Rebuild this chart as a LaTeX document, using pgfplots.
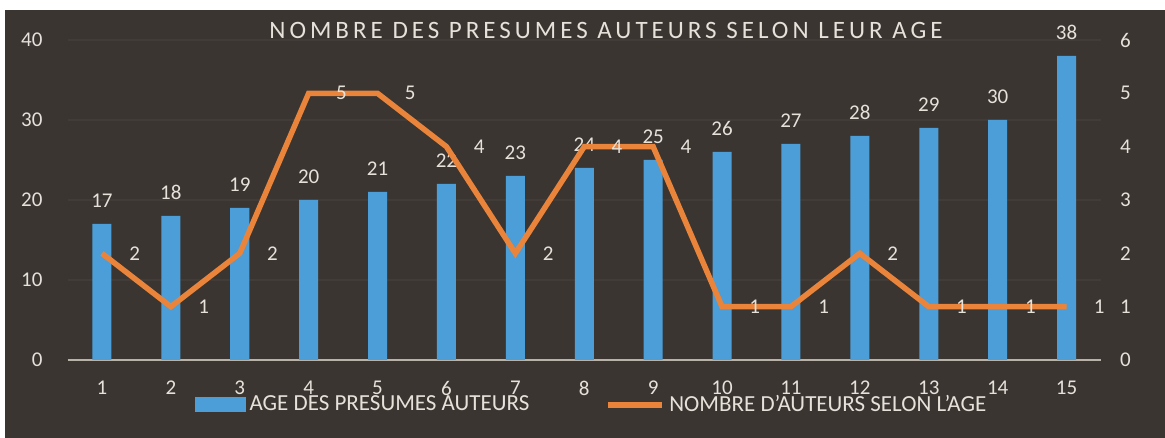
\documentclass[border=0pt]{standalone}
\usepackage{fontspec}
\setmainfont{Carlito}
\newfontfamily\titlefont[LetterSpace=16]{Carlito}
\usepackage{pgfplots}
\pgfplotsset{compat=1.18}

\definecolor{bgdark}{HTML}{3A3531}
\definecolor{gridc}{HTML}{413C38}
\definecolor{txt}{HTML}{E6E2DA}
\definecolor{barblue}{HTML}{4B9ED8}
\definecolor{lineorange}{HTML}{E9843A}
\definecolor{axisc}{HTML}{B8B2A8}

\pgfplotsset{
  /pgf/number format/assume math mode=true,
  common/.style={
    at={(33.75pt,39pt)}, anchor=south west,
    scale only axis, width=516.75pt, height=160pt,
    xmin=0.5, xmax=15.5,
    xtick={1,...,15},
    major tick length=0pt,
    tick label style={text=txt, font=\fontsize{10.5}{12}\selectfont},
  }
}

\begin{document}
\begin{tikzpicture}
\fill[white] (0pt,0pt) rectangle (582.5pt,219pt);
\fill[bgdark] (2.5pt,0pt) rectangle (582.5pt,214pt);

% age of each presumed author (left axis)
\begin{axis}[common,
    ymin=0, ymax=40, ytick={0,10,20,30,40},
    axis x line*=bottom, axis y line*=left,
    x axis line style={draw=axisc, line width=0.8pt, -},
    y axis line style={draw=none},
    ymajorgrids, grid style={gridc, line width=0.6pt},
    yticklabel style={xshift=-9pt},
    xticklabel style={yshift=-7pt},
]
\addplot[ybar, bar width=0.276, fill=barblue, draw=none,
    nodes near coords,
    nodes near coords style={text=txt, font=\fontsize{10.5}{12}\selectfont, yshift=4.5pt}]
  coordinates {(1,17) (2,18) (3,19) (4,20) (5,21) (6,22) (7,23) (8,24)
               (9,25) (10,26) (11,27) (12,28) (13,29) (14,30) (15,38)};
\end{axis}

% number of authors per age (right axis)
\begin{axis}[common,
    ymin=0, ymax=6, ytick={0,1,...,6},
    axis x line=none, axis y line*=right,
    y axis line style={draw=none},
    yticklabel style={xshift=6pt},
    legend columns=2,
    legend style={at={(0.508,-0.14)}, anchor=center, draw=none, fill=none,
      text=txt, font=\fontsize{11.5}{13}\selectfont,
      /tikz/every even column/.append style={column sep=36pt}},
]
\addlegendimage{legend image code/.code={
    \fill[barblue] (0pt,-3.5pt) rectangle (25pt,3.5pt);}}
\addlegendentry{AGE DES PRESUMES AUTEURS}
\addplot[lineorange, line width=2.75pt, mark=none,
    legend image code/.code={\draw[lineorange, line width=3pt] (0pt,0pt) -- (27pt,0pt);},
    nodes near coords,
    nodes near coords style={text=txt, font=\fontsize{10.5}{12}\selectfont,
      anchor=west, xshift=9pt}]
  coordinates {(1,2) (2,1) (3,2) (4,5) (5,5) (6,4) (7,2) (8,4)
               (9,4) (10,1) (11,1) (12,2) (13,1) (14,1) (15,1)};
\addlegendentry{NOMBRE D'AUTEURS SELON L'AGE}
\end{axis}

\node[text=txt, font=\titlefont\fontsize{12.5}{14}\selectfont]
  at (303pt,204pt) {NOMBRE DES PRESUMES AUTEURS SELON LEUR AGE};
\end{tikzpicture}
\end{document}
